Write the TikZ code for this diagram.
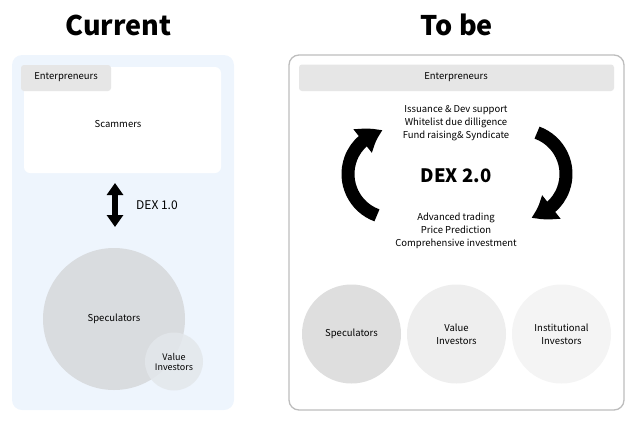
\documentclass[tikz,border=0pt]{standalone}
\usepackage{fontspec}
\setmainfont{Noto Sans CJK KR}
\usepackage{tikz}
\usetikzlibrary{arrows.meta,bending}
\definecolor{panelblue}{HTML}{EEF5FD}
\definecolor{tabgray}{HTML}{E6E6E6}
\definecolor{specgray}{HTML}{D9DCDF}
\definecolor{valgray}{HTML}{E3E7EB}
\definecolor{rspec}{HTML}{DEDEDE}
\definecolor{rval}{HTML}{EEEEEE}
\definecolor{rinst}{HTML}{F4F4F4}
\definecolor{rimframe}{HTML}{BDBDBD}

\begin{document}
\begin{tikzpicture}[x=1pt,y=-1pt,
	title/.style={font=\fontsize{27}{30}\selectfont\bfseries,inner sep=0pt},
	txt/.style={font=\fontsize{9.5}{13}\selectfont,align=center,inner sep=0pt},
	small/.style={font=\fontsize{9}{10}\selectfont,align=center,inner sep=0pt},
	blob/.style={circle,inner sep=0pt,font=\fontsize{9.5}{13}\selectfont,align=center},
	cycarrow/.style={line width=13pt,-{Triangle[length=23pt,width=28pt,bend]}}]
		\useasboundingbox (0,0) rectangle (640,429);
		\node[title] (cur) at (118.5,25) {Current};
		\node[title] (tobe) at (457,25) {To be};
		\fill[panelblue,rounded corners=10pt] (12,55) rectangle (234,410);
		\fill[white,rounded corners=6pt] (24,67) rectangle (221,173);
		\fill[tabgray,rounded corners=3pt] (21,65) rectangle (111,91);
		\node[txt] (entl) at (66,77.5) {Enterpreneurs};
		\node[txt] (scam) at (118,124) {Scammers};
		\coordinate (dtop) at (115,183);
		\coordinate (dbot) at (115,227);
		\draw[line width=6pt,{Triangle[length=12pt,width=16pt]}-{Triangle[length=12pt,width=16pt]}] (dtop) -- (dbot);
		\node[font=\fontsize{12}{14}\selectfont,right,inner sep=0pt] (dex1) at (136,205.5) {DEX 1.0};
		\node[blob,fill=specgray,minimum size=142pt] (specl) at (114,319) {Speculators};
		\node[blob,fill=valgray,fill opacity=0.85,text opacity=1,minimum size=58pt] (vall) at (174,361.5) {};
		\node[small] at (vall) {Value\\Investors};
		\draw[rimframe,line width=1.3pt,fill=white,rounded corners=10pt] (289,55) rectangle (624,410);
		\fill[tabgray,rounded corners=3pt] (299,64.5) rectangle (614,91);
		\node[txt] (entr) at (456,77.5) {Enterpreneurs};
		\node[txt] (upper) at (456,123) {Issuance \& Dev support\\Whitelist due dilligence\\Fund raising\& Syndicate};
		\node[font=\fontsize{18.5}{22}\selectfont\bfseries,inner sep=0pt] (dex2) at (456,175.5) {DEX 2.0};
		\node[txt] (lower) at (456,231) {Advanced trading\\Price Prediction\\Comprehensive investment};
		\coordinate (lc) at (392,174);
		\coordinate (rc) at (522,174);
		\draw[cycarrow] (lc) ++(110:44) arc[start angle=110,end angle=258,radius=44];
		\draw[cycarrow] (rc) ++(290:44) arc[start angle=290,end angle=438,radius=44];
		\node[blob,fill=rspec,minimum size=99pt] (specr) at (351.5,334) {Speculators};
		\node[blob,fill=rval,minimum size=99pt] (valr) at (456.5,334) {Value\\Investors};
		\node[blob,fill=rinst,minimum size=99pt] (inst) at (561.5,334) {Institutional\\Investors};
\end{tikzpicture}
\end{document}
